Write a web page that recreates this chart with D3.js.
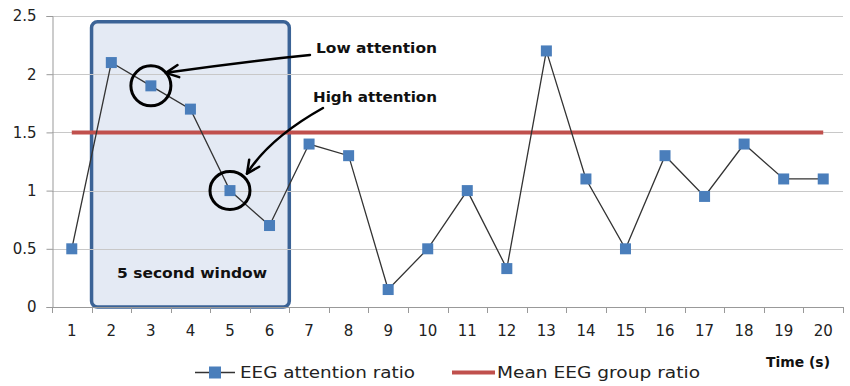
<!DOCTYPE html>
<html>
<head>
<meta charset="utf-8">
<script src="https://cdn.jsdelivr.net/npm/d3@7"></script>
<style>
  html, body { margin: 0; padding: 0; background: #fff; }
  svg { display: block; }
  text { font-family: "DejaVu Sans", "Open Sans", sans-serif; }
</style>
</head>
<body>
<svg id="chart" width="850" height="386"></svg>
<script>
// ---- data ----
const categories = ["1","2","3","4","5","6","7","8","9","10","11","12","13","14","15","16","17","18","19","20"];
const attentionRatio = [0.5, 2.1, 1.9, 1.7, 1.0, 0.7, 1.4, 1.3, 0.15, 0.5, 1.0, 0.33, 2.2, 1.1, 0.5, 1.3, 0.95, 1.4, 1.1, 1.1];
const meanGroupRatio = [1.5, 1.5, 1.5, 1.5, 1.5, 1.5, 1.5, 1.5, 1.5, 1.5, 1.5, 1.5, 1.5, 1.5, 1.5, 1.5, 1.5, 1.5, 1.5, 1.5];
const yTicks = [0, 0.5, 1, 1.5, 2, 2.5];
const yTickLabels = ["0", "0.5", "1", "1.5", "2", "2.5"];
const windowStart = "2", windowEnd = "6", windowTop = 2.45;
const lowPoint = "3", highPoint = "5";
const seriesNames = ["EEG attention ratio", "Mean EEG group ratio"];
const xTitle = "Time (s)";

// ---- scales ----
const svg = d3.select("#chart");
const x = d3.scaleBand().domain(categories).range([52, 843]);
const y = d3.scaleLinear().domain([0, 2.5]).range([307, 16]);
const cx = c => x(c) + x.bandwidth() / 2;
const data = categories.map((c, i) => ({c, v: attentionRatio[i], m: meanGroupRatio[i]}));

// ---- 5 second window box (behind) ----
svg.append("rect")
  .attr("x", x(windowStart))
  .attr("y", y(windowTop))
  .attr("width", x(windowEnd) + x.bandwidth() - x(windowStart))
  .attr("height", y(0) - y(windowTop))
  .attr("rx", 6).attr("ry", 6)
  .attr("fill", "#e4eaf4")
  .attr("stroke", "#3b6396")
  .attr("stroke-width", 3.5);

// ---- gridlines ----
svg.append("g").selectAll("line").data(yTicks.filter(t => t > 0)).join("line")
  .attr("x1", 52).attr("x2", 843)
  .attr("y1", d => Math.round(y(d)) + 0.5).attr("y2", d => Math.round(y(d)) + 0.5)
  .attr("stroke", "#c8c8c8").attr("stroke-width", 1.2);

// ---- y axis ----
const yAxis = d3.axisLeft(y).tickValues(yTicks).tickSize(6).tickPadding(10)
  .tickFormat((d, i) => yTickLabels[i]);
const gy = svg.append("g").attr("transform", "translate(52.5,0)").call(yAxis);
gy.select(".domain").attr("stroke", "#999");
gy.selectAll(".tick line").attr("stroke", "#999");
gy.selectAll(".tick text").attr("font-size", 15).attr("fill", "#222")
  .attr("font-family", "DejaVu Sans, sans-serif");

// ---- x axis ----
const xAxis = d3.axisBottom(x).tickSize(0).tickPadding(18);
const gx = svg.append("g").attr("transform", "translate(0,307.5)").call(xAxis);
gx.select(".domain").attr("stroke", "#999").attr("d", "M52,0H843");
gx.selectAll(".tick text").attr("font-size", 15).attr("fill", "#222")
  .attr("font-family", "DejaVu Sans, sans-serif");
// category boundary tick marks
svg.append("g").selectAll("line").data(categories.concat(["end"])).join("line")
  .attr("x1", (d, i) => Math.round(52 + i * x.bandwidth()) + 0.5)
  .attr("x2", (d, i) => Math.round(52 + i * x.bandwidth()) + 0.5)
  .attr("y1", 307).attr("y2", 313)
  .attr("stroke", "#999");

// ---- mean line ----
svg.append("path").datum(data)
  .attr("fill", "none").attr("stroke", "#c0504d").attr("stroke-width", 4)
  .attr("d", d3.line().x(d => cx(d.c)).y(d => y(d.m)));

// ---- attention series ----
svg.append("path").datum(data)
  .attr("fill", "none").attr("stroke", "#333").attr("stroke-width", 1.3)
  .attr("d", d3.line().x(d => cx(d.c)).y(d => y(d.v)));
svg.append("g").selectAll("rect").data(data).join("rect")
  .attr("x", d => cx(d.c) - 5.5).attr("y", d => y(d.v) - 5.5)
  .attr("width", 11).attr("height", 11)
  .attr("fill", "#4a7ebb");

// ---- annotations ----
const lowI = categories.indexOf(lowPoint), highI = categories.indexOf(highPoint);
const lx = cx(lowPoint), ly = y(attentionRatio[lowI]);
const hx = cx(highPoint), hy = y(attentionRatio[highI]);
svg.append("circle").attr("cx", lx).attr("cy", ly).attr("r", 20)
  .attr("fill", "none").attr("stroke", "#000").attr("stroke-width", 3);
svg.append("ellipse").attr("cx", hx).attr("cy", hy).attr("rx", 20).attr("ry", 19)
  .attr("fill", "none").attr("stroke", "#000").attr("stroke-width", 3);

function arrowHead(tipX, tipY, fromX, fromY) {
  const a = Math.atan2(tipY - fromY, tipX - fromX);
  const L = 14, s = 0.45;
  const p1 = [tipX - L * Math.cos(a - s), tipY - L * Math.sin(a - s)];
  const p2 = [tipX - L * Math.cos(a + s), tipY - L * Math.sin(a + s)];
  svg.append("path")
    .attr("d", `M${p1[0]},${p1[1]}L${tipX},${tipY}L${p2[0]},${p2[1]}`)
    .attr("fill", "none").attr("stroke", "#000").attr("stroke-width", 2.5)
    .attr("stroke-linecap", "round").attr("stroke-linejoin", "round");
}
// low attention arrow
const lTip = [lx + 15, ly - 13];
svg.append("path")
  .attr("d", `M310,55 Q240,62 ${lTip[0]},${lTip[1]}`)
  .attr("fill", "none").attr("stroke", "#000").attr("stroke-width", 2.5).attr("stroke-linecap", "round");
arrowHead(lTip[0], lTip[1], 215, 66);
// high attention arrow
const hTip = [hx + 17, hy - 17];
svg.append("path")
  .attr("d", `M323,108 C298,122 265,145 ${hTip[0]},${hTip[1]}`)
  .attr("fill", "none").attr("stroke", "#000").attr("stroke-width", 2.5).attr("stroke-linecap", "round");
arrowHead(hTip[0], hTip[1], 262, 152);

svg.append("text").attr("x", 316).attr("y", 53).text("Low attention")
  .attr("font-size", 14).attr("font-weight", "bold").attr("fill", "#111")
  .attr("textLength", 121).attr("lengthAdjust", "spacingAndGlyphs");
svg.append("text").attr("x", 313).attr("y", 102).text("High attention")
  .attr("font-size", 14).attr("font-weight", "bold").attr("fill", "#111")
  .attr("textLength", 124).attr("lengthAdjust", "spacingAndGlyphs");
svg.append("text").attr("x", 117).attr("y", 278).text("5 second window")
  .attr("font-size", 14).attr("font-weight", "bold").attr("fill", "#111")
  .attr("textLength", 150).attr("lengthAdjust", "spacingAndGlyphs");

// ---- axis title ----
svg.append("text").attr("x", 766).attr("y", 367).text(xTitle)
  .attr("font-size", 14).attr("font-weight", "bold").attr("fill", "#111")
  .attr("textLength", 64).attr("lengthAdjust", "spacingAndGlyphs");

// ---- legend ----
const lg = svg.append("g");
lg.append("line").attr("x1", 195).attr("x2", 235).attr("y1", 372.5).attr("y2", 372.5)
  .attr("stroke", "#333").attr("stroke-width", 1.5);
lg.append("rect").attr("x", 209).attr("y", 366.5).attr("width", 12).attr("height", 12).attr("fill", "#4a7ebb");
lg.append("text").attr("x", 240).attr("y", 378).text(seriesNames[0])
  .attr("font-size", 15).attr("fill", "#222")
  .attr("textLength", 175).attr("lengthAdjust", "spacingAndGlyphs");
lg.append("line").attr("x1", 452).attr("x2", 495).attr("y1", 372.5).attr("y2", 372.5)
  .attr("stroke", "#c0504d").attr("stroke-width", 4);
lg.append("text").attr("x", 497).attr("y", 378).text(seriesNames[1])
  .attr("font-size", 15).attr("fill", "#222")
  .attr("textLength", 203).attr("lengthAdjust", "spacingAndGlyphs");
</script>
</body>
</html>
